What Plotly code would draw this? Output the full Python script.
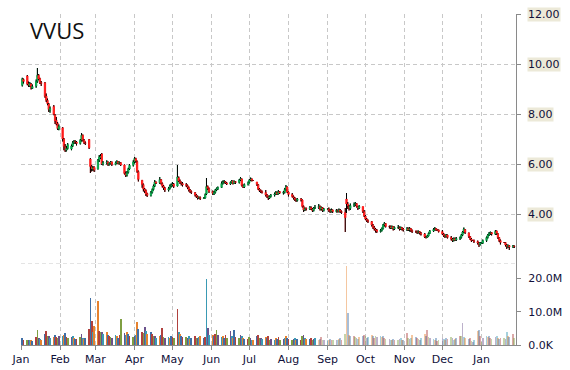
import pandas as pd
import plotly.graph_objects as go
from plotly.subplots import make_subplots

title_text = "VVUS"
month_starts = ["2014-01-01", "2014-02-01", "2014-03-01", "2014-04-01", "2014-05-01", "2014-06-01",
                "2014-07-01", "2014-08-01", "2014-09-01", "2014-10-01", "2014-11-01", "2014-12-01",
                "2015-01-01"]
month_labels = ["Jan", "Feb", "Mar", "Apr", "May", "Jun", "Jul", "Aug", "Sep", "Oct", "Nov", "Dec", "Jan"]
price_ticks = [4, 6, 8, 10, 12]
vol_ticks = [0, 10e6, 20e6]
vol_tick_labels = ["0.0K", "10.0M", "20.0M"]

dates = pd.bdate_range("2014-01-02", "2015-01-27")

open_ = [
    9.15, 9.38,
    9.52, 9.22, 9.12, 9.20, 9.02,
    9.12, 9.30, 9.55, 9.42, 9.26,
    9.25, 8.72, 8.55, 8.40, 8.15,
    8.30, 7.95, 7.75, 7.62, 7.40,
    7.45, 7.00, 6.70, 6.55, 6.62,
    6.60, 6.72, 6.85, 6.90, 6.88,
    6.82, 6.95, 7.15, 6.95, 6.85,
    6.98, 6.20, 5.90, 5.80, 5.88,
    5.80, 6.15, 6.25, 6.40, 6.00,
    6.05, 6.08, 5.98, 6.02, 6.08,
    5.98, 6.05, 6.10, 6.02, 6.06,
    5.96, 5.62, 5.55, 5.66, 5.80,
    5.95, 6.08, 6.22, 6.10, 5.70,
    5.35, 5.18, 5.00, 4.94, 4.82,
    4.74, 4.86, 4.98, 5.12, 5.28,
    5.25, 5.38, 5.22, 5.12, 5.04,
    4.96, 5.02, 5.12, 5.16, 5.20,
    5.12, 5.45, 5.32, 5.26, 5.22,
    5.18, 5.14, 5.06, 4.96, 4.90,
    4.86, 4.76, 4.70, 4.64, 4.66,
    4.62, 4.64, 4.80, 5.10, 5.02,
    4.90, 4.80, 4.86, 4.96, 5.00,
    5.06, 5.22, 5.28, 5.30, 5.24,
    5.20, 5.26, 5.32, 5.22, 5.30,
    5.26, 5.36, 5.40, 5.14, 5.08,
    5.18, 5.26, 5.36, 5.40, 5.34,
    5.28, 5.18, 5.00, 4.94, 4.90,
    4.86, 4.76, 4.70, 4.64, 4.70,
    4.76, 4.80, 4.86, 4.80, 4.90,
    4.84, 4.86, 4.98, 5.08, 4.88,
    4.78, 4.70, 4.64, 4.58, 4.54,
    4.60, 4.56, 4.30, 4.16, 4.22,
    4.20, 4.26, 4.20, 4.14, 4.24,
    4.26, 4.30, 4.20, 4.26, 4.14,
    4.20, 4.20, 4.14, 4.10, 4.16,
    4.10, 4.14, 4.10, 4.16, 4.10,
    4.06, 4.60, 4.40, 4.30, 4.22,
    4.34, 4.38, 4.42, 4.30, 4.24,
    4.30, 4.10, 3.92, 3.80, 3.74,
    3.70, 3.56, 3.46, 3.40, 3.36,
    3.30, 3.34, 3.42, 3.56, 3.62,
    3.50, 3.50, 3.44, 3.50, 3.40,
    3.46, 3.46, 3.40, 3.46, 3.40,
    3.36, 3.42, 3.36, 3.42, 3.34,
    3.30, 3.30, 3.26, 3.30, 3.24,
    3.20, 3.08, 3.06, 3.12, 3.22,
    3.32, 3.38, 3.42, 3.36, 3.36,
    3.30, 3.20, 3.14, 3.10, 3.16,
    3.06, 3.00, 2.94, 3.02, 2.96,
    3.02, 3.06, 3.16, 3.28, 3.38,
    3.24, 3.10, 3.00, 2.94, 2.94,
    2.90, 2.84, 2.78, 2.84, 2.84,
    2.94, 3.06, 3.16, 3.22, 3.26,
    3.20, 3.32, 3.22, 3.06, 2.94,
    2.86, 2.86, 2.76, 2.70, 2.74,
    2.68, 2.72,
]

high = [
    9.45, 9.42,
    9.56, 9.30, 9.28, 9.24, 9.18,
    9.38, 9.84, 9.60, 9.45, 9.32,
    9.28, 8.82, 8.62, 8.44, 8.30,
    8.36, 8.00, 7.88, 7.68, 7.58,
    7.48, 7.04, 6.80, 6.72, 6.84,
    6.78, 6.92, 6.96, 6.95, 6.92,
    7.00, 7.24, 7.18, 7.00, 6.90,
    7.00, 6.24, 5.96, 5.92, 5.90,
    6.20, 6.36, 6.40, 6.44, 6.12,
    6.15, 6.10, 6.06, 6.12, 6.10,
    6.10, 6.15, 6.12, 6.10, 6.08,
    5.98, 5.70, 5.72, 5.85, 6.00,
    6.15, 6.28, 6.25, 6.14, 5.74,
    5.36, 5.22, 5.04, 4.98, 4.85,
    4.92, 5.02, 5.18, 5.36, 5.30,
    5.48, 5.40, 5.26, 5.16, 5.08,
    5.08, 5.18, 5.22, 5.28, 5.24,
    5.96, 5.50, 5.38, 5.30, 5.28,
    5.24, 5.18, 5.10, 5.00, 4.94,
    4.88, 4.80, 4.74, 4.70, 4.70,
    4.68, 4.82, 5.44, 5.14, 5.06,
    4.94, 4.92, 5.00, 5.06, 5.10,
    5.30, 5.34, 5.36, 5.32, 5.28,
    5.30, 5.36, 5.34, 5.34, 5.32,
    5.40, 5.48, 5.42, 5.18, 5.22,
    5.30, 5.40, 5.46, 5.42, 5.36,
    5.28, 5.20, 5.04, 4.98, 4.94,
    4.96, 4.80, 4.74, 4.74, 4.80,
    4.86, 4.92, 4.90, 4.96, 4.92,
    4.92, 5.04, 5.16, 5.10, 4.90,
    4.84, 4.74, 4.68, 4.62, 4.64,
    4.64, 4.58, 4.34, 4.26, 4.26,
    4.32, 4.30, 4.24, 4.28, 4.36,
    4.40, 4.34, 4.30, 4.28, 4.24,
    4.22, 4.26, 4.20, 4.22, 4.18,
    4.20, 4.18, 4.22, 4.20, 4.14,
    4.24, 4.84, 4.48, 4.36, 4.42,
    4.46, 4.48, 4.44, 4.32, 4.36,
    4.30, 4.16, 3.96, 3.84, 3.78,
    3.72, 3.60, 3.52, 3.44, 3.40,
    3.40, 3.46, 3.60, 3.68, 3.64,
    3.54, 3.54, 3.54, 3.52, 3.50,
    3.56, 3.50, 3.50, 3.48, 3.44,
    3.48, 3.46, 3.48, 3.44, 3.38,
    3.34, 3.34, 3.34, 3.32, 3.28,
    3.24, 3.12, 3.16, 3.26, 3.36,
    3.44, 3.48, 3.44, 3.38, 3.38,
    3.36, 3.24, 3.18, 3.20, 3.18,
    3.12, 3.04, 3.06, 3.06, 3.08,
    3.10, 3.20, 3.32, 3.46, 3.40,
    3.26, 3.12, 3.04, 2.96, 2.98,
    2.94, 2.88, 2.88, 2.86, 2.98,
    3.10, 3.20, 3.28, 3.30, 3.28,
    3.36, 3.34, 3.24, 3.08, 2.98,
    2.88, 2.88, 2.80, 2.78, 2.76,
    2.76, 2.74,
]

low = [
    9.10, 9.22,
    9.15, 9.08, 9.08, 8.98, 9.00,
    9.05, 9.25, 9.35, 9.20, 9.12,
    8.65, 8.48, 8.35, 8.08, 8.05,
    7.95, 7.60, 7.55, 7.36, 7.35,
    6.90, 6.55, 6.48, 6.50, 6.58,
    6.55, 6.68, 6.80, 6.80, 6.74,
    6.78, 6.90, 6.90, 6.80, 6.76,
    6.60, 5.64, 5.70, 5.72, 5.68,
    5.78, 6.08, 6.20, 5.96, 5.94,
    5.98, 5.92, 5.94, 5.98, 5.92,
    5.95, 6.00, 5.98, 5.98, 5.92,
    5.58, 5.48, 5.50, 5.62, 5.76,
    5.90, 6.02, 6.05, 5.65, 5.30,
    5.05, 4.90, 4.84, 4.72, 4.68,
    4.70, 4.82, 4.94, 5.08, 5.20,
    5.20, 5.18, 5.06, 4.96, 4.88,
    4.90, 4.98, 5.06, 5.10, 5.04,
    5.10, 5.28, 5.20, 5.14, 5.10,
    5.08, 5.00, 4.90, 4.84, 4.80,
    4.70, 4.64, 4.58, 4.60, 4.56,
    4.60, 4.62, 4.76, 4.96, 4.84,
    4.76, 4.76, 4.82, 4.92, 4.96,
    5.04, 5.18, 5.22, 5.20, 5.16,
    5.16, 5.22, 5.18, 5.20, 5.20,
    5.22, 5.32, 5.10, 5.04, 5.04,
    5.14, 5.22, 5.32, 5.30, 5.32,
    5.12, 4.96, 4.88, 4.84, 4.82,
    4.70, 4.64, 4.56, 4.60, 4.66,
    4.70, 4.76, 4.76, 4.78, 4.80,
    4.78, 4.82, 4.94, 4.84, 4.70,
    4.66, 4.58, 4.52, 4.48, 4.50,
    4.50, 4.26, 4.08, 4.12, 4.14,
    4.16, 4.16, 4.08, 4.10, 4.20,
    4.20, 4.14, 4.14, 4.08, 4.10,
    4.18, 4.08, 4.04, 4.06, 4.04,
    4.06, 4.06, 4.06, 4.04, 4.00,
    3.28, 4.04, 4.20, 4.14, 4.16,
    4.28, 4.32, 4.26, 4.16, 4.20,
    4.04, 3.88, 3.76, 3.68, 3.64,
    3.50, 3.40, 3.34, 3.26, 3.24,
    3.26, 3.30, 3.38, 3.50, 3.46,
    3.42, 3.40, 3.40, 3.34, 3.36,
    3.40, 3.34, 3.36, 3.34, 3.30,
    3.32, 3.32, 3.30, 3.28, 3.24,
    3.24, 3.20, 3.22, 3.18, 3.14,
    3.04, 3.02, 3.04, 3.10, 3.20,
    3.28, 3.34, 3.32, 3.34, 3.26,
    3.16, 3.08, 3.04, 3.06, 3.02,
    2.94, 2.88, 2.90, 2.92, 2.92,
    2.96, 3.02, 3.12, 3.24, 3.20,
    3.04, 2.96, 2.88, 2.92, 2.84,
    2.78, 2.68, 2.74, 2.82, 2.80,
    2.88, 3.02, 3.12, 3.16, 3.14,
    3.16, 3.16, 3.00, 2.88, 2.78,
    2.84, 2.70, 2.60, 2.64, 2.56,
    2.64, 2.64,
]

close = [
    9.40, 9.30,
    9.20, 9.15, 9.22, 9.05, 9.10,
    9.30, 9.55, 9.40, 9.25, 9.22,
    8.70, 8.55, 8.42, 8.18, 8.22,
    7.98, 7.72, 7.60, 7.42, 7.50,
    7.00, 6.70, 6.55, 6.62, 6.78,
    6.72, 6.85, 6.90, 6.88, 6.82,
    6.95, 7.15, 6.95, 6.85, 6.82,
    6.65, 5.90, 5.80, 5.85, 5.75,
    6.15, 6.28, 6.32, 6.00, 6.05,
    6.08, 5.98, 6.02, 6.08, 5.98,
    6.05, 6.10, 6.02, 6.06, 5.96,
    5.62, 5.55, 5.66, 5.80, 5.95,
    6.08, 6.22, 6.12, 5.70, 5.38,
    5.18, 5.00, 4.92, 4.80, 4.74,
    4.86, 4.98, 5.12, 5.28, 5.24,
    5.38, 5.22, 5.12, 5.04, 4.96,
    5.02, 5.12, 5.16, 5.20, 5.10,
    5.48, 5.32, 5.26, 5.22, 5.16,
    5.14, 5.06, 4.96, 4.90, 4.86,
    4.76, 4.70, 4.64, 4.66, 4.62,
    4.64, 4.78, 5.10, 5.02, 4.90,
    4.82, 4.86, 4.96, 5.02, 5.06,
    5.22, 5.28, 5.30, 5.24, 5.20,
    5.26, 5.32, 5.22, 5.30, 5.26,
    5.36, 5.42, 5.14, 5.08, 5.18,
    5.26, 5.36, 5.40, 5.34, 5.34,
    5.18, 5.00, 4.94, 4.90, 4.86,
    4.76, 4.70, 4.64, 4.70, 4.76,
    4.80, 4.86, 4.80, 4.90, 4.84,
    4.86, 4.98, 5.08, 4.88, 4.78,
    4.70, 4.64, 4.58, 4.54, 4.60,
    4.56, 4.30, 4.16, 4.22, 4.20,
    4.26, 4.20, 4.14, 4.24, 4.26,
    4.30, 4.20, 4.26, 4.14, 4.20,
    4.20, 4.14, 4.10, 4.16, 4.10,
    4.14, 4.10, 4.16, 4.10, 4.06,
    3.85, 4.40, 4.32, 4.22, 4.34,
    4.38, 4.42, 4.30, 4.24, 4.30,
    4.10, 3.92, 3.80, 3.74, 3.70,
    3.56, 3.46, 3.40, 3.34, 3.30,
    3.34, 3.42, 3.56, 3.62, 3.50,
    3.50, 3.44, 3.50, 3.40, 3.46,
    3.46, 3.40, 3.46, 3.40, 3.36,
    3.42, 3.36, 3.42, 3.34, 3.30,
    3.30, 3.26, 3.30, 3.24, 3.20,
    3.08, 3.06, 3.12, 3.22, 3.32,
    3.38, 3.42, 3.36, 3.36, 3.30,
    3.20, 3.14, 3.10, 3.16, 3.06,
    3.00, 2.94, 3.02, 2.96, 3.02,
    3.06, 3.16, 3.28, 3.40, 3.26,
    3.10, 3.00, 2.94, 2.94, 2.90,
    2.84, 2.78, 2.84, 2.84, 2.94,
    3.06, 3.16, 3.22, 3.26, 3.20,
    3.30, 3.22, 3.06, 2.94, 2.86,
    2.86, 2.76, 2.70, 2.74, 2.68,
    2.72, 2.70,
]

volume_m = [
    2.1, 1.6,
    1.5, 1.4, 1.6, 1.5, 1.3,
    2.4, 4.5, 2.2, 1.9, 1.6,
    3.2, 4.3, 2.8, 2.6, 2.0,
    2.5, 2.9, 2.4, 2.2, 2.6,
    2.7, 3.0, 3.6, 2.4, 2.1,
    2.3, 2.6, 2.0, 1.8, 1.9,
    2.4, 3.3, 2.2, 1.8, 2.0,
    4.8, 14.1, 7.2, 4.0, 5.7,
    13.2, 4.2, 4.0, 3.8, 3.2,
    3.8, 3.0, 2.6, 2.4, 2.2,
    3.0, 2.8, 2.2, 3.0, 7.8,
    3.6, 3.0, 4.0, 3.4, 2.6,
    2.4, 2.6, 3.0, 6.9, 4.8,
    4.0, 3.6, 5.3, 4.2, 3.4,
    4.0, 3.2, 2.8, 2.6, 2.0,
    2.6, 3.0, 5.0, 2.4, 2.2,
    2.5, 2.2, 2.8, 2.4, 2.0,
    10.8, 4.0, 3.2, 2.6, 2.4,
    2.4, 2.0, 2.6, 1.8, 2.2,
    2.8, 2.2, 2.0, 2.4, 2.6,
    2.0, 2.4, 19.8, 5.0, 3.0,
    3.0, 2.6, 3.4, 4.5, 3.0,
    2.4, 2.8, 2.2, 3.0, 2.2,
    4.2, 2.6, 2.0, 4.5, 2.4,
    2.2, 3.0, 2.6, 2.2, 1.8,
    1.8, 2.4, 2.0, 1.6, 1.4,
    2.6, 3.0, 2.0, 2.2, 1.8,
    2.4, 2.2, 2.6, 1.6, 1.8,
    1.6, 2.0, 1.8, 2.4, 1.6,
    1.8, 2.2, 2.8, 2.0, 1.8,
    1.6, 1.8, 2.0, 1.6, 1.8,
    1.6, 2.6, 3.0, 2.2, 1.8,
    1.8, 2.0, 1.6, 1.8, 2.2,
    1.6, 1.8, 2.4, 1.6, 1.4,
    1.4, 1.6, 1.8, 1.6, 1.4,
    1.6, 1.4, 1.8, 2.0, 1.6,
    3.2, 23.7, 9.6, 3.0, 2.6,
    2.6, 2.4, 2.0, 1.8, 2.4,
    2.8, 3.0, 2.6, 2.2, 2.4,
    3.0, 2.6, 2.2, 2.8, 2.4,
    2.6, 2.4, 2.8, 2.2, 1.8,
    1.8, 1.6, 1.4, 1.8, 1.6,
    1.6, 1.8, 2.0, 1.6, 1.4,
    3.6, 2.2, 1.8, 2.0, 3.0,
    2.4, 2.0, 1.8, 1.6, 2.2,
    3.2, 2.6, 4.5, 2.4, 2.0,
    1.8, 1.6, 2.0, 1.2, 1.4,
    2.0, 1.8, 1.6, 2.2, 1.8,
    2.4, 2.0, 1.6, 1.8, 2.2,
    2.6, 2.8, 6.6, 2.4, 2.2,
    1.8, 2.0, 1.2, 1.0, 1.4,
    4.3, 4.5, 2.6, 1.0, 2.2,
    2.8, 2.4, 2.6, 2.0, 1.8,
    2.4, 2.6, 2.2, 1.8, 2.0,
    2.0, 1.8, 4.0, 2.6, 2.4,
    3.2, 2.0,
]

n = min(len(dates), len(open_), len(high), len(low), len(close), len(volume_m))
dates = list(dates[:n])
open_, high, low, close, volume_m = open_[:n], high[:n], low[:n], close[:n], volume_m[:n]
volume = [v * 1e6 for v in volume_m]

# styles
GREEN = "#0aa64a"
RED = "#ff1a1a"
GRID = "#c8c8c8"
AXIS = "#8a8a8a"
TEXT = "#10103a"
palette = ["#3f6ea6", "#b0413e", "#7f9f42", "#6a528c", "#3a9ab4", "#e6822e"]
vol_colors = [palette[i % len(palette)] for i in range(n)]
# colour accents seen on the large-volume days
accent = {"2014-02-25": "#3f6ea6", "2014-02-26": "#b0413e", "2014-03-03": "#e6822e",
          "2014-05-05": "#b0413e", "2014-05-28": "#3a9ab4", "2014-09-16": "#e6822e",
          "2014-09-17": "#3f6ea6"}
for i, d in enumerate(dates):
    key = d.strftime("%Y-%m-%d")
    if key in accent:
        vol_colors[i] = accent[key]
fade_from = pd.Timestamp("2014-08-25")
vol_opacity = [1.0 if d < fade_from else 0.45 for d in dates]

fig = make_subplots(rows=2, cols=1, shared_xaxes=True, vertical_spacing=0,
                    row_heights=[250, 81])

fig.add_trace(go.Candlestick(
    x=dates, open=open_, high=high, low=low, close=close,
    increasing=dict(line=dict(color=GREEN, width=1), fillcolor=GREEN),
    decreasing=dict(line=dict(color=RED, width=1), fillcolor=RED),
    whiskerwidth=0, showlegend=False, hoverinfo="skip"), row=1, col=1)

# black shadows (outside the coloured body)
wx, wy = [], []
for d, o, hi, lo, c in zip(dates, open_, high, low, close):
    top, bot = max(o, c), min(o, c)
    wx += [d, d, None, d, d, None]
    wy += [top, hi, None, lo, bot, None]
fig.add_trace(go.Scatter(x=wx, y=wy, mode="lines", line=dict(color="#000000", width=1),
                         showlegend=False, hoverinfo="skip"), row=1, col=1)

fig.add_trace(go.Bar(x=dates, y=volume, width=0.6 * 86400000,
                     marker=dict(color=vol_colors, opacity=vol_opacity, line=dict(width=0)),
                     showlegend=False, hoverinfo="skip"), row=2, col=1)

xrange = ["2014-01-01", "2015-01-28 08:00"]
common_x = dict(range=xrange, type="date", showgrid=True, gridcolor=GRID, griddash="4px,3px",
                gridwidth=1, tickvals=month_starts, zeroline=False, automargin=False,
                rangeslider=dict(visible=False))
fig.update_xaxes(**common_x)
fig.update_xaxes(showticklabels=False, ticks="", showline=False, row=1, col=1)
fig.update_xaxes(ticktext=month_labels, ticks="outside", ticklen=4, tickcolor=AXIS,
                 showline=True, linecolor=AXIS, linewidth=1,
                 tickfont=dict(family="DejaVu Sans", size=11, color=TEXT), row=2, col=1)

fig.update_yaxes(range=[2, 12], side="right", tickvals=price_ticks, showticklabels=False,
                 ticks="outside", ticklen=4, tickcolor=AXIS, showline=True, linecolor=AXIS,
                 showgrid=True, gridcolor=GRID, griddash="4px,3px", zeroline=False,
                 automargin=False, row=1, col=1)
fig.update_yaxes(range=[0, 24.3e6], side="right", tickvals=vol_ticks, ticktext=vol_tick_labels,
                 ticks="outside", ticklen=4, tickcolor=AXIS, showline=True, linecolor=AXIS,
                 showgrid=False, zeroline=False, ticklabelstandoff=5, automargin=False,
                 tickfont=dict(family="DejaVu Sans", size=11, color=TEXT), row=2, col=1)

fig.add_shape(type="line", xref="paper", x0=0, x1=1, yref="y", y0=2, y1=2,
              line=dict(color=GRID, width=1, dash="4px,3px"), layer="below")

for v in price_ticks:
    fig.add_annotation(x=1, xref="paper", xanchor="left", xshift=11, y=v, yref="y",
                       text=f"{v:.2f}", showarrow=False, bgcolor="#ECE9D8", borderpad=0,
                       font=dict(family="DejaVu Sans", size=11, color=TEXT))

fig.add_annotation(x=0.014, y=0.952, xref="paper", yref="paper", xanchor="left", yanchor="middle",
                   text=title_text, showarrow=False,
                   font=dict(family="Open Sans", size=22, color="#111111"))

fig.update_layout(width=570, height=370, margin=dict(l=21, r=54, t=14, b=25),
                  paper_bgcolor="white", plot_bgcolor="white", bargap=0,
                  boxgap=0, boxgroupgap=0, showlegend=False)

fig.write_html("out.html")
